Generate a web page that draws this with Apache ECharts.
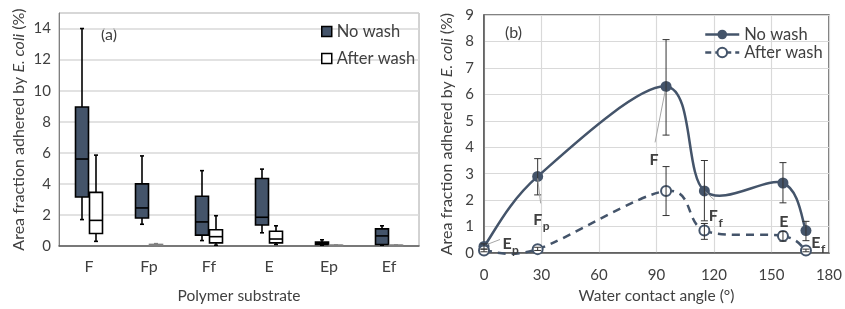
<!DOCTYPE html>
<html>
<head>
<meta charset="utf-8">
<script src="https://cdn.jsdelivr.net/npm/echarts@6/dist/echarts.min.js"></script>
<style>
  html, body { margin: 0; padding: 0; background: #fff; }
  #chart { width: 845px; height: 309px; }
</style>
</head>
<body>
<div id="chart"></div>
<script>
// (a) box plots per polymer substrate: [min, Q1, median, Q3, max]
var substrates = ['F', 'Fp', 'Ff', 'E', 'Ep', 'Ef'];
var boxNoWash = [
  [1.7, 3.15, 5.6, 8.95, 14.0],
  [1.4, 1.8, 2.45, 4.0, 5.8],
  [0.35, 0.7, 1.55, 3.2, 4.85],
  [0.85, 1.35, 1.85, 4.35, 4.95],
  [0.05, 0.1, 0.15, 0.25, 0.4],
  [0.05, 0.1, 0.65, 1.1, 1.3]
];
var boxAfterWash = [
  [0.3, 0.8, 1.65, 3.45, 5.85],
  [0.03, 0.06, 0.08, 0.1, 0.15],
  [0.05, 0.2, 0.6, 1.05, 1.95],
  [0.1, 0.2, 0.45, 0.95, 1.3],
  [0.02, 0.03, 0.04, 0.05, 0.06],
  [0.02, 0.03, 0.04, 0.05, 0.06]
];

// (b) mean vs water contact angle, sorted by angle
var pointNames = ['E', 'F', 'F', 'F', 'E', 'E'];
var pointSubs = ['p', 'p', '', 'f', '', 'f'];
var contactAngle = [0, 28, 95, 115, 156, 168];
var meanNoWash = [0.25, 2.9, 6.3, 2.35, 2.65, 0.85];
var lowNoWash = [0.15, 2.2, 4.46, 1.22, 1.9, 0.47];
var highNoWash = [0.35, 3.57, 8.07, 3.5, 3.42, 1.2];
var meanAfterWash = [0.1, 0.15, 2.35, 0.85, 0.65, 0.1];
var lowAfterWash = [0.05, 0.1, 1.42, 0.52, 0.45, 0.05];
var highAfterWash = [0.15, 0.22, 3.27, 1.12, 0.82, 0.15];

var navy = '#44546A';
var txt = '#404040';
var font = 'Lato, "Open Sans", sans-serif';

// where each point label sits, in pixels from its point (and which series it belongs to)
var labelPlacement = [
  { after: false, dx: 23, dy: -3, line: [3, -2, 16, -7] },
  { after: false, dx: 0, dy: 43, line: [0, 2, 3, 27] },
  { after: false, dx: -12, dy: 73, line: [-1, 5, -11, 56] },
  { after: false, dx: 9, dy: 25, line: [1, 1, 10, 9] },
  { after: true, dx: 1, dy: -14, line: null },
  { after: false, dx: 10, dy: 12, line: null }
];

function boxRenderer(offset, fill) {
  return function (params, api) {
    var i = api.value(0);
    var cx = api.coord([i, 0])[0] + offset;
    var y = [1, 2, 3, 4, 5].map(function (d) { return api.coord([i, api.value(d)])[1]; });
    var hw = 6.5;
    // boxes squashed flat on the axis look grey in the original
    var flat = (y[0] - y[4]) < 3;
    var edge = flat ? '#808080' : '#000';
    var ls = { stroke: edge, lineWidth: 1.6 };
    return {
      type: 'group',
      children: [
        { type: 'line', shape: { x1: cx, y1: y[0], x2: cx, y2: y[1] }, style: ls },
        { type: 'line', shape: { x1: cx, y1: y[3], x2: cx, y2: y[4] }, style: ls },
        { type: 'line', shape: { x1: cx - 2, y1: y[0], x2: cx + 2, y2: y[0] }, style: ls },
        { type: 'line', shape: { x1: cx - 2, y1: y[4], x2: cx + 2, y2: y[4] }, style: ls },
        { type: 'rect', shape: { x: cx - hw, y: y[3], width: hw * 2, height: Math.max(y[1] - y[3], 1) },
          style: { fill: flat ? '#808080' : fill, stroke: edge, lineWidth: 1.6 } },
        { type: 'line', shape: { x1: cx - hw, y1: y[2], x2: cx + hw, y2: y[2] }, style: ls }
      ]
    };
  };
}

function boxData(rows) {
  return rows.map(function (r, i) { return [i].concat(r); });
}

function errRenderer(params, api) {
  var top = api.coord([api.value(0), api.value(2)]);
  var bot = api.coord([api.value(0), api.value(1)]);
  var cap = 3.5;
  var st = { stroke: '#333', lineWidth: 1 };
  return {
    type: 'group',
    children: [
      { type: 'line', shape: { x1: top[0], y1: top[1], x2: bot[0], y2: bot[1] }, style: st },
      { type: 'line', shape: { x1: top[0] - cap, y1: top[1], x2: top[0] + cap, y2: top[1] }, style: st },
      { type: 'line', shape: { x1: bot[0] - cap, y1: bot[1], x2: bot[0] + cap, y2: bot[1] }, style: st }
    ]
  };
}

// spreadsheet-style smoothed line: one bezier segment per data point (to the next point)
function curveRenderer(values, dash) {
  return function (params, api) {
    var i = params.dataIndex;
    var n = contactAngle.length;
    if (i >= n - 1) return null;
    function pt(j) {
      j = Math.max(0, Math.min(n - 1, j));
      return api.coord([contactAngle[j], values[j]]);
    }
    var p0 = pt(i - 1), p1 = pt(i), p2 = pt(i + 1), p3 = pt(i + 2);
    var k = 1 / 6;
    return {
      type: 'bezierCurve',
      shape: {
        x1: p1[0], y1: p1[1], x2: p2[0], y2: p2[1],
        cpx1: p1[0] + (p2[0] - p0[0]) * k, cpy1: p1[1] + (p2[1] - p0[1]) * k,
        cpx2: p2[0] - (p3[0] - p1[0]) * k, cpy2: p2[1] - (p3[1] - p1[1]) * k
      },
      style: { stroke: navy, lineWidth: 2.5, fill: null, lineDash: dash }
    };
  };
}

function labelRenderer(params, api) {
  var i = params.dataIndex;
  var p = labelPlacement[i];
  var c = api.coord([api.value(0), api.value(1)]);
  var kids = [];
  if (p.line) {
    kids.push({ type: 'line', shape: { x1: c[0] + p.line[0], y1: c[1] + p.line[1], x2: c[0] + p.line[2], y2: c[1] + p.line[3] },
      style: { stroke: '#a6a6a6', lineWidth: 1 } });
  }
  kids.push({ type: 'text', x: c[0] + p.dx, y: c[1] + p.dy,
    style: { text: pointNames[i], fill: txt, font: 'bold 16px ' + font, align: 'center', verticalAlign: 'middle' } });
  if (pointSubs[i]) {
    kids.push({ type: 'text', x: c[0] + p.dx + 5, y: c[1] + p.dy + 7,
      style: { text: pointSubs[i], fill: txt, font: 'bold 12px ' + font, align: 'left', verticalAlign: 'middle' } });
  }
  return { type: 'group', children: kids };
}

var yName = '{n|Area fraction adhered by }{i|E. coli}{n| (%)}';
var yNameStyle = { color: txt, rich: {
  n: { fontSize: 16, fontFamily: font, color: txt },
  i: { fontSize: 16, fontFamily: font, color: txt, fontStyle: 'italic' }
} };

var chart = echarts.init(document.getElementById('chart'));

var option = {
  animation: false,
  textStyle: { fontFamily: font },
  grid: [
    { left: 59, top: 13, width: 360, height: 240, show: true, borderColor: '#a6a6a6', borderWidth: 1 },
    { left: 484, top: 15, width: 350, height: 242, show: true, borderColor: '#595959', borderWidth: 1.5 }
  ],
  xAxis: [
    { type: 'category', gridIndex: 0, data: substrates,
      axisLine: { lineStyle: { color: '#595959', width: 1.5 } }, axisTick: { show: false },
      axisLabel: { color: txt, fontSize: 16, margin: 13 },
      name: 'Polymer substrate', nameLocation: 'middle', nameGap: 42,
      nameTextStyle: { color: txt, fontSize: 15.5 } },
    { type: 'value', gridIndex: 1, min: 0, max: 180, interval: 30,
      axisLine: { lineStyle: { color: '#595959', width: 1.5 } }, axisTick: { show: false },
      splitLine: { lineStyle: { color: '#d9d9d9', width: 1.2 } },
      axisLabel: { color: txt, fontSize: 15, margin: 15 },
      name: 'Water contact angle (°)', nameLocation: 'middle', nameGap: 29,
      nameTextStyle: { color: txt, fontSize: 15.5 } }
  ],
  yAxis: [
    { type: 'value', gridIndex: 0, min: 0, max: 15, interval: 2,
      axisLine: { show: true, lineStyle: { color: '#808080' } }, axisTick: { show: false },
      splitLine: { lineStyle: { color: '#d9d9d9', width: 1.5 } },
      axisLabel: { color: txt, fontSize: 15, margin: 8, showMaxLabel: false },
      name: yName, nameLocation: 'middle', nameGap: 32, nameRotate: 90, nameTextStyle: yNameStyle },
    { type: 'value', gridIndex: 1, min: 0, max: 9, interval: 1,
      axisLine: { show: true, lineStyle: { color: '#595959', width: 1.5 } }, axisTick: { show: false },
      splitLine: { lineStyle: { color: '#d9d9d9', width: 1.2 } },
      axisLabel: { color: txt, fontSize: 15, margin: 10 },
      name: yName, nameLocation: 'middle', nameGap: 29, nameRotate: 90, nameTextStyle: yNameStyle }
  ],
  legend: [
    { orient: 'vertical', left: 316, top: 18, itemWidth: 10, itemHeight: 10, itemGap: 10,
      textStyle: { color: txt, fontSize: 16.5 },
      data: [
        { name: 'No wash', icon: 'rect', itemStyle: { color: navy, borderColor: '#000', borderWidth: 1.5 } },
        { name: 'After wash', icon: 'rect', itemStyle: { color: '#fff', borderColor: '#000', borderWidth: 1.5 } }
      ] },
    { orient: 'vertical', left: 699, top: 21, itemWidth: 34, itemHeight: 12, itemGap: 1,
      textStyle: { color: txt, fontSize: 16.5 },
      formatter: function (n) { return n.replace(' (b)', ''); },
      data: [
        { name: 'No wash (b)', lineStyle: { color: navy, width: 2.5, type: 'solid', opacity: 1 } },
        { name: 'After wash (b)', lineStyle: { color: navy, width: 2.5, type: [6, 4], opacity: 1 } }
      ] }
  ],
  graphic: [
    { type: 'text', left: 101, top: 27, style: { text: '(a)', fill: txt, font: '16px ' + font } },
    { type: 'text', left: 505, top: 25, style: { text: '(b)', fill: txt, font: '16px ' + font } }
  ],
  series: [
    { name: 'No wash', type: 'custom', xAxisIndex: 0, yAxisIndex: 0, itemStyle: { color: navy },
      renderItem: boxRenderer(-7, navy), encode: { x: 0, y: [1, 2, 3, 4, 5] }, data: boxData(boxNoWash) },
    { name: 'After wash', type: 'custom', xAxisIndex: 0, yAxisIndex: 0, itemStyle: { color: '#fff' },
      renderItem: boxRenderer(7, '#fff'), encode: { x: 0, y: [1, 2, 3, 4, 5] }, data: boxData(boxAfterWash) },

    { type: 'custom', xAxisIndex: 1, yAxisIndex: 1, z: 2, renderItem: curveRenderer(meanNoWash, null),
      encode: { x: 0, y: 1 }, data: contactAngle.map(function (a, i) { return [a, meanNoWash[i]]; }) },
    { type: 'custom', xAxisIndex: 1, yAxisIndex: 1, z: 2, renderItem: curveRenderer(meanAfterWash, [8, 6]),
      encode: { x: 0, y: 1 }, data: contactAngle.map(function (a, i) { return [a, meanAfterWash[i]]; }) },
    { name: 'No wash (b)', type: 'line', xAxisIndex: 1, yAxisIndex: 1,
      symbol: 'circle', symbolSize: 11, z: 3,
      itemStyle: { color: navy }, lineStyle: { color: navy, width: 2.5, opacity: 0 },
      data: contactAngle.map(function (a, i) { return [a, meanNoWash[i]]; }) },
    { name: 'After wash (b)', type: 'line', xAxisIndex: 1, yAxisIndex: 1,
      symbol: 'emptyCircle', symbolSize: 10, z: 3,
      itemStyle: { color: navy, borderWidth: 1.5 }, lineStyle: { color: navy, width: 2.5, opacity: 0 },
      data: contactAngle.map(function (a, i) { return [a, meanAfterWash[i]]; }) },
    { type: 'custom', xAxisIndex: 1, yAxisIndex: 1, z: 4, renderItem: errRenderer, encode: { x: 0, y: [1, 2] },
      data: contactAngle.map(function (a, i) { return [a, lowNoWash[i], highNoWash[i]]; }) },
    { type: 'custom', xAxisIndex: 1, yAxisIndex: 1, z: 4, renderItem: errRenderer, encode: { x: 0, y: [1, 2] },
      data: contactAngle.map(function (a, i) { return [a, lowAfterWash[i], highAfterWash[i]]; }) },
    { type: 'custom', xAxisIndex: 1, yAxisIndex: 1, z: 5, renderItem: labelRenderer, encode: { x: 0, y: 1 },
      data: contactAngle.map(function (a, i) {
        return [a, labelPlacement[i].after ? meanAfterWash[i] : meanNoWash[i]];
      }) }
  ]
};

chart.setOption(option);
</script>
</body>
</html>
